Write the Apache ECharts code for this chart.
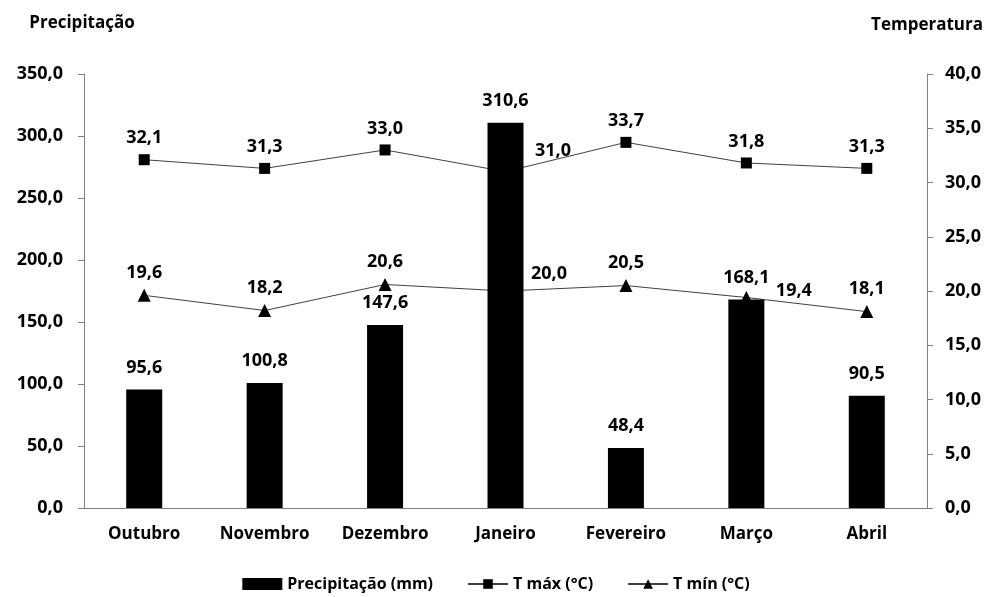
<!DOCTYPE html>
<html>
<head>
<meta charset="utf-8">
<script src="https://cdn.jsdelivr.net/npm/echarts@6/dist/echarts.min.js"></script>
<style>
  html, body { margin: 0; padding: 0; background: #fff; }
  #chart { width: 992px; height: 597px; }
</style>
</head>
<body>
<div id="chart"></div>
<script>
// dados
const meses = ['Outubro', 'Novembro', 'Dezembro', 'Janeiro', 'Fevereiro', 'Março', 'Abril']
const precipitacao = [95.6, 100.8, 147.6, 310.6, 48.4, 168.1, 90.5]
const tMax = [32.1, 31.3, 33.0, 31.0, 33.7, 31.8, 31.3]
const tMin = [19.6, 18.2, 20.6, 20.0, 20.5, 19.4, 18.1]

const fonte = '"Open Sans", "Noto Sans", sans-serif'
const fmt = v => v.toFixed(1).replace('.', ',')

const chart = echarts.init(document.getElementById('chart'))

const labelBase = {
  show: true,
  position: 'top',
  distance: 7,
  fontFamily: fonte,
  fontWeight: 'bold',
  fontSize: 18,
  color: '#000',
  formatter: p => fmt(p.value)
}

// rótulos deslocados para a direita (Janeiro / Março)
const pontos = (vals, lados) => vals.map((v, i) => lados[i]
  ? { value: v, label: { position: lados[i] } }
  : v)

const option = {
  animation: false,
  textStyle: { fontFamily: fonte },
  grid: { left: 84, right: 65, top: 74, bottom: 89 },
  legend: {
    bottom: 0,
    left: 'center',
    itemGap: 34,
    itemWidth: 40,
    itemHeight: 12,
    textStyle: { fontFamily: fonte, fontWeight: 'bold', fontSize: 16, color: '#000' },
    data: [
      { name: 'Precipitação (mm)', icon: 'rect' },
      { name: 'T máx (°C)' },
      { name: 'T mín (°C)' }
    ]
  },
  xAxis: {
    type: 'category',
    data: meses,
    axisLine: { lineStyle: { color: '#808080' } },
    axisTick: { show: false },
    axisLabel: { fontFamily: fonte, fontWeight: 'bold', fontSize: 17, color: '#000', margin: 18 }
  },
  yAxis: [
    {
      type: 'value',
      name: 'Precipitação',
      nameLocation: 'end',
      nameGap: 42,
      nameTextStyle: { fontFamily: fonte, fontWeight: 'bold', fontSize: 17, color: '#000', align: 'center', padding: [0, 0, 0, -4] },
      min: 0, max: 350, interval: 50,
      splitLine: { show: false },
      axisLine: { show: true, lineStyle: { color: '#808080' } },
      axisTick: { show: true, length: 6, lineStyle: { color: '#808080' } },
      axisLabel: { fontFamily: fonte, fontWeight: 'bold', fontSize: 18, color: '#000', margin: 21, formatter: fmt }
    },
    {
      type: 'value',
      name: 'Temperatura',
      nameLocation: 'end',
      nameGap: 40,
      nameTextStyle: { fontFamily: fonte, fontWeight: 'bold', fontSize: 17, color: '#000', align: 'center', padding: [0, 0, 0, 0] },
      min: 0, max: 40, interval: 5,
      splitLine: { show: false },
      axisLine: { show: true, lineStyle: { color: '#808080' } },
      axisTick: { show: true, length: 6, lineStyle: { color: '#808080' } },
      axisLabel: { fontFamily: fonte, fontWeight: 'bold', fontSize: 18, color: '#000', margin: 18, formatter: fmt }
    }
  ],
  series: [
    {
      name: 'Precipitação (mm)',
      type: 'bar',
      yAxisIndex: 0,
      z: 3,
      barWidth: 36,
      itemStyle: { color: '#000' },
      label: Object.assign({}, labelBase, { distance: 13 }),
      data: precipitacao
    },
    {
      name: 'T máx (°C)',
      type: 'line',
      yAxisIndex: 1,
      z: 2,
      symbol: 'rect',
      symbolSize: 11,
      itemStyle: { color: '#000' },
      lineStyle: { color: '#404040', width: 1 },
      label: labelBase,
      data: pontos(tMax, [0, 0, 0, [35, -24], 0, 0, 0])
    },
    {
      name: 'T mín (°C)',
      type: 'line',
      yAxisIndex: 1,
      z: 2,
      symbol: 'triangle',
      symbolSize: 13,
      itemStyle: { color: '#000' },
      lineStyle: { color: '#404040', width: 1 },
      label: labelBase,
      data: pontos(tMin, [0, 0, 0, [32, -20], 0, [36, -9], 0])
    }
  ]
}

chart.setOption(option)
window.addEventListener('resize', () => chart.resize())
</script>
</body>
</html>
